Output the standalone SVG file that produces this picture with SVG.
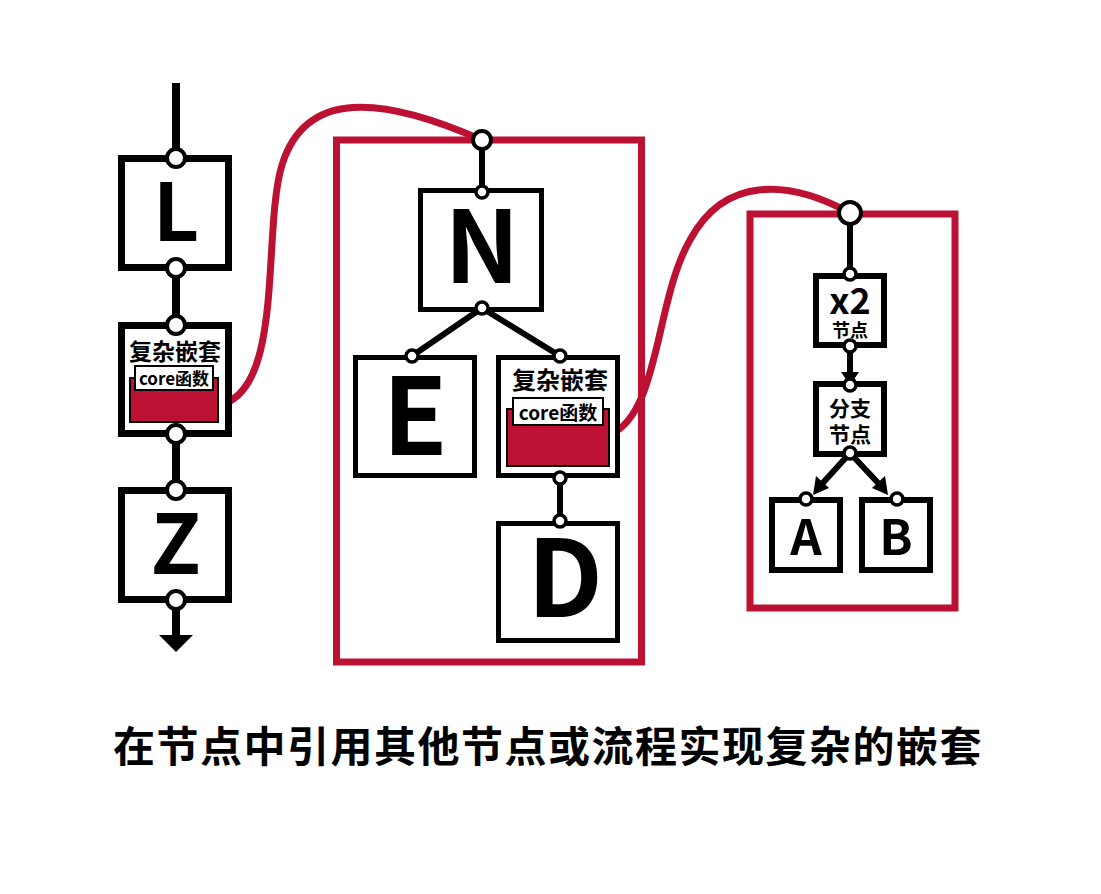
<svg xmlns="http://www.w3.org/2000/svg" width="1101" height="894" viewBox="0 0 1101 894">
<defs>
<style>
.box{fill:#fff;stroke:#000;stroke-width:6}
.ln{stroke:#000;stroke-width:6;fill:none}
.lnw{stroke:#000;stroke-width:8;fill:none}
.dot{fill:#fff;stroke:#000;stroke-width:4}
.red{fill:#bc1133;stroke:#000;stroke-width:2}
.lab{fill:#fff;stroke:#000;stroke-width:2}
.frame{fill:none;stroke:#bc1133;stroke-width:7}
.curve{fill:none;stroke:#bc1133;stroke-width:7}
.t{font-family:"Noto Sans CJK SC","Noto Sans",sans-serif;font-weight:bold;fill:#000;text-anchor:middle}
</style>
</defs>
<rect width="1101" height="894" fill="#fff"/>

<g id="frames">
<rect class="frame" x="336.5" y="140" width="305" height="522"/>
<rect class="frame" x="750" y="214" width="205" height="394"/>
</g>

<g id="connectors">
<line class="lnw" x1="176" y1="83" x2="176" y2="158"/>
<line class="lnw" x1="176" y1="268" x2="176" y2="325"/>
<line class="lnw" x1="176" y1="434" x2="176" y2="490"/>
<line class="lnw" x1="176" y1="600" x2="176" y2="638"/>
<path d="M159,635 L193,635 L176,652 Z" fill="#000"/>
<path class="curve" d="M219,405 C285,392 262,230 282,165 C305,90 380,95 482,140"/>
<path class="curve" d="M609,435 C660,415 655,300 690,240 C725,175 790,180 850,213"/>
<line class="ln" x1="482" y1="140" x2="482" y2="192"/>
<line class="ln" x1="482" y1="308" x2="412" y2="356"/>
<line class="ln" x1="482" y1="308" x2="560" y2="356"/>
<line class="ln" x1="560" y1="478" x2="560" y2="521"/>
<line class="ln" x1="850" y1="213" x2="850" y2="274"/>
<line class="ln" x1="850" y1="346" x2="850" y2="375"/>
<path d="M841,372 L859,372 L850,385 Z" fill="#000"/>
<line class="ln" x1="850" y1="453" x2="821" y2="485"/>
<path d="M813,495 L816,476 L829,488 Z" fill="#000"/>
<line class="ln" x1="850" y1="453" x2="880" y2="485"/>
<path d="M888,495 L872,488 L885,476 Z" fill="#000"/>
</g>

<g id="node-L">
<rect class="box" style="stroke-width:7" x="121.5" y="158.5" width="107" height="109"/>
<text class="t" x="176" y="241" font-size="80">L</text>
<circle class="dot" cx="176" cy="158" r="9"/>
<circle class="dot" cx="176" cy="268" r="9"/>
</g>

<g id="node-nest1">
<rect class="box" style="stroke-width:7" x="121.5" y="325.5" width="107" height="108"/>
<text class="t" x="175" y="360" font-size="23">复杂嵌套</text>
<rect class="red" x="130" y="378" width="88" height="44"/>
<rect class="lab" x="135" y="366" width="78" height="24"/>
<text class="t" x="174" y="385" font-size="17">core函数</text>
<circle class="dot" cx="176" cy="325" r="9"/>
<circle class="dot" cx="176" cy="434" r="9"/>
</g>

<g id="node-Z">
<rect class="box" style="stroke-width:7" x="121.5" y="490.5" width="107" height="109"/>
<text class="t" x="176" y="574" font-size="82">Z</text>
<circle class="dot" cx="176" cy="490" r="9"/>
<circle class="dot" cx="176" cy="600" r="9"/>
</g>

<g id="node-N">
<circle class="dot" cx="482" cy="140" r="9"/>
<rect class="box" style="stroke-width:5" x="420.5" y="190.5" width="121" height="119"/>
<text class="t" x="482" y="283" font-size="100">N</text>
<circle class="dot" cx="482" cy="192" r="6" style="stroke-width:3.5"/>
<circle class="dot" cx="482" cy="308" r="6" style="stroke-width:3.5"/>
</g>

<g id="node-E">
<rect class="box" style="stroke-width:5" x="355.5" y="357.5" width="119" height="118"/>
<text class="t" x="415" y="455" font-size="106">E</text>
<circle class="dot" cx="412" cy="356" r="6" style="stroke-width:3.5"/>
</g>

<g id="node-nest2">
<rect class="box" style="stroke-width:5" x="498.5" y="357.5" width="119" height="118"/>
<text class="t" x="560" y="389" font-size="24">复杂嵌套</text>
<rect class="red" x="507" y="409" width="102" height="57"/>
<rect class="lab" x="513" y="398" width="90" height="27"/>
<text class="t" x="558" y="420" font-size="19">core函数</text>
<circle class="dot" cx="560" cy="356" r="6" style="stroke-width:3.5"/>
<circle class="dot" cx="560" cy="478" r="6" style="stroke-width:3.5"/>
</g>

<g id="node-D">
<rect class="box" style="stroke-width:5" x="498.5" y="523.5" width="119" height="117"/>
<text class="t" x="565" y="617" font-size="106">D</text>
<circle class="dot" cx="560" cy="521" r="6" style="stroke-width:3.5"/>
</g>

<g id="node-x2">
<circle class="dot" cx="850" cy="213" r="11"/>
<rect class="box" x="816" y="276" width="68" height="69"/>
<text class="t"><tspan x="850" y="314" font-size="36">x2</tspan><tspan x="850" y="337" font-size="18">节点</tspan></text>
<circle class="dot" cx="850" cy="274" r="6" style="stroke-width:3.5"/>
<circle class="dot" cx="850" cy="346" r="6" style="stroke-width:3.5"/>
</g>

<g id="node-branch">
<rect class="box" x="816" y="384" width="68" height="70"/>
<text class="t" font-size="21"><tspan x="850" y="416">分支</tspan><tspan x="850" y="442">节点</tspan></text>
<circle class="dot" cx="850" cy="385" r="6" style="stroke-width:3.5"/>
<circle class="dot" cx="850" cy="453" r="6" style="stroke-width:3.5"/>
</g>

<g id="node-A">
<rect class="box" x="772" y="500" width="68" height="70"/>
<text class="t" x="806" y="555" font-size="49">A</text>
<circle class="dot" cx="806" cy="499" r="6" style="stroke-width:3.5"/>
</g>

<g id="node-B">
<rect class="box" x="862" y="500" width="68" height="70"/>
<text class="t" x="896" y="555" font-size="49">B</text>
<circle class="dot" cx="897" cy="499" r="6" style="stroke-width:3.5"/>
</g>

<text class="t" x="548" y="762" font-size="42" letter-spacing="1.5">在节点中引用其他节点或流程实现复杂的嵌套</text>
</svg>
